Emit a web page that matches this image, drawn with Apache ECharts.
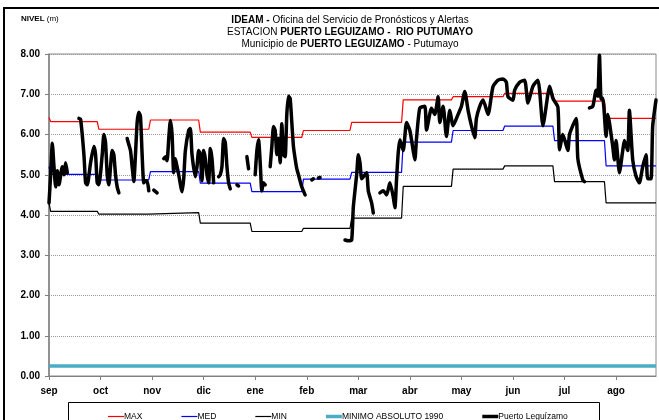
<!DOCTYPE html>
<html>
<head>
<meta charset="utf-8">
<script src="https://cdn.jsdelivr.net/npm/echarts@6/dist/echarts.min.js"></script>
<style>
html, body { margin: 0; padding: 0; background: #fff; }
#chart { width: 659px; height: 420px; }
</style>
</head>
<body>
<div id="chart"></div>
<script>
// eje x: dias desde el 1 de septiembre, etiqueta cada 31 dias
var months = ['sep', 'oct', 'nov', 'dic', 'ene', 'feb', 'mar', 'abr', 'may', 'jun', 'jul', 'ago']
var monthStart = [0, 30, 61, 91, 122, 153, 182, 213, 243, 274, 304, 335, 365]
var yTicks = [0, 1, 2, 3, 4, 5, 6, 7, 8]

// estadisticas mensuales (m)
var nivelMax = [6.32, 6.13, 6.36, 6.06, 5.93, 6.10, 6.30, 6.86, 6.94, 7.02, 6.83, 6.40]
var nivelMed = [5.01, 4.87, 5.08, 4.79, 4.58, 4.89, 5.06, 5.81, 6.10, 6.21, 5.85, 5.22]
var nivelMin = [4.09, 4.02, 4.06, 3.80, 3.59, 3.67, 3.92, 4.71, 5.14, 5.22, 4.83, 4.30]
var primerDia = [6.42, 5.20, 4.30] // max, med, min del 1 de sep
var minimoAbsoluto = 0.25

// Puerto Leguizamo: [dia, nivel], null = sin dato
var niveles = [
  [0, 4.30], [1, 5.00], [2, 5.78], [3, 5.20], [4, 4.70], [5, 5.10], [6, 4.75], [8, 5.20], [9, 5.00], [10, 5.30], [11, 5.05], [12, null],
  [18, 6.40], [19, 6.38], [21, 5.50], [22, 4.80], [23, 4.75], [25, 5.30], [27, 5.70], [28, 5.50], [29, 4.80], [30, 4.75], [32, 5.50], [33, 6.00], [34, 5.80], [35, 5.00], [36, 4.75], [37, 5.20], [38, 5.60], [39, 5.50], [40, 5.00], [41, 4.70], [42, 4.55], [43, null],
  [47, 5.90], [48, 5.75], [49, 5.60], [50, 5.20], [51, 4.83], [52, 5.50], [53, 6.30], [54, 6.55], [55, 6.45], [56, 5.50], [57, 4.80], [58, 4.85], [59, 4.85], [60, 4.60], [61, null], [63, 4.62], [65, 4.55], [66, null],
  [69, 5.40], [70, 5.45], [71, 5.35], [72, 5.90], [73, 6.35], [74, 6.00], [75, 5.05], [76, 5.40], [77, 5.20], [78, 5.00], [80, 4.58], [81, 4.90], [82, 5.60], [84, 6.10], [85, 6.15], [86, 5.50], [88, 4.95], [89, 5.20], [90, 5.60], [91, 5.50], [92, 4.85], [93, 5.60], [94, 5.40], [95, 5.00], [96, 4.80], [97, 5.65], [98, 5.40], [99, 4.80], [100, null],
  [102, 4.95], [103, 5.00], [104, 5.20], [105, 5.90], [106, 5.80], [107, 5.20], [108, 4.80], [109, 4.65], [110, null],
  [113, 4.75], [114, 4.72], [115, null],
  [119, 5.45], [120, 5.15], [121, null],
  [124, 5.00], [125, 5.60], [126, 5.87], [127, 5.30], [128, 4.60], [129, 4.80], [130, 4.75], [131, null],
  [133, 5.20], [134, 5.70], [135, 6.20], [136, 6.10], [137, 5.50], [138, 5.90], [139, 5.30], [140, 6.27], [141, 5.50], [142, 5.45], [143, 6.50], [144, 6.95], [145, 6.90], [146, 6.30], [147, 5.70], [148, 5.40], [149, 5.15], [150, 5.00], [152, 4.70], [154, 4.50], [155, null],
  [158, 4.87], [159, 4.90], [160, null], [162, 4.92], [163, 4.93], [164, null],
  [178, 3.38], [180, 3.36], [182, 3.38], [183, 4.20], [185, 5.00], [186, 5.50], [187, 5.30], [188, 4.90], [189, 4.95], [191, 5.05], [192, 4.60], [194, 4.30], [195, 4.05], [196, null],
  [199, 4.55], [201, 4.60], [203, 4.50], [205, 4.80], [207, 4.45], [208, 4.18], [209, 4.90], [210, 5.55], [211, 5.87], [213, 5.60], [215, 6.30], [217, 6.10], [219, 5.60], [220, 5.37], [221, 5.90], [223, 6.66], [226, 6.70], [227, 6.11], [230, 6.65], [232, 6.50], [234, 6.94], [235, 6.30], [237, 6.70], [239, 5.95], [241, 6.60], [243, 6.22], [246, 6.50], [248, 6.70], [250, 7.07], [252, 6.60], [254, 6.22], [256, 5.92], [257, 6.40], [259, 6.70], [261, 6.86], [264, 6.50], [267, 7.19], [270, 7.35], [273, 7.38], [275, 7.30], [276, 6.94], [279, 6.85], [280, 7.10], [283, 7.30], [286, 7.35], [288, 6.78], [291, 7.20], [294, 7.35], [295, 7.10], [297, 6.22], [300, 7.00], [301, 7.20], [303, 6.90], [306, 6.68], [307, 5.62], [309, 6.00], [312, 5.60], [313, 6.00], [317, 6.40], [318, 5.40], [321, 4.87], [322, 4.83], [323, null],
  [325, 6.66], [327, 6.70], [329, 7.10], [330, 6.95], [331, 7.97], [332, 6.88], [333, 6.90], [335, 5.95], [336, 6.50], [337, 6.30], [339, 5.70], [340, 5.37], [341, 5.85], [343, 5.05], [345, 5.60], [346, 5.85], [348, 5.60], [349, 6.60], [351, 5.37], [353, 4.96], [355, 4.80], [357, 5.20], [359, 5.50], [360, 4.90], [362, 4.90], [363, 6.20], [365, 6.86]
]

var FONT = '"Liberation Sans", Arial, sans-serif'
var thinIcon = 'path://M0,0H16V1.2H0Z'
var thickIcon = 'path://M0,0H16V3.5H0Z'

// escalon mensual: valor constante en cada mes, cambio en un dia
function monthly(values, first) {
  var out = [[0, first]]
  for (var i = 0; i < values.length; i++) {
    out.push([Math.max(monthStart[i], 1), values[i]])
    out.push([monthStart[i + 1] - (i === values.length - 1 ? 0 : 1), values[i]])
  }
  return out
}

var chart = echarts.init(document.getElementById('chart'))

var option = {
  animation: false,
  backgroundColor: '#fff',
  textStyle: { fontFamily: FONT },
  title: [
    {
      text: '{b|IDEAM -} Oficina del Servicio de Pronósticos y Alertas\nESTACION {b|PUERTO LEGUIZAMO -  RIO PUTUMAYO}\nMunicipio de {b|PUERTO LEGUIZAMO} - Putumayo',
      left: 350,
      top: 14,
      textAlign: 'center',
      padding: 0,
      textStyle: {
        fontFamily: FONT, fontSize: 10, fontWeight: 'normal', color: '#000', lineHeight: 12,
        rich: { b: { fontFamily: FONT, fontSize: 10, fontWeight: 'bold', color: '#000', lineHeight: 12 } }
      }
    },
    {
      text: '{b|NIVEL} (m)',
      left: 21,
      top: 15,
      padding: 0,
      textStyle: {
        fontFamily: FONT, fontSize: 8, fontWeight: 'normal', color: '#000',
        rich: { b: { fontFamily: FONT, fontSize: 8, fontWeight: 'bold', color: '#000' } }
      }
    }
  ],
  legend: {
    left: 103,
    top: 407,
    itemWidth: 16,
    itemHeight: 10,
    itemGap: 39,
    symbolKeepAspect: true,
    textStyle: { fontFamily: FONT, fontSize: 8.5, color: '#000', padding: [0, 0, 0, -5] },
    data: [
      { name: 'MAX', icon: thinIcon },
      { name: 'MED', icon: thinIcon },
      { name: 'MIN', icon: thinIcon },
      { name: 'MINIMO ABSOLUTO 1990', icon: thickIcon },
      { name: 'Puerto Leguízamo', icon: thickIcon }
    ]
  },
  graphic: [
    { type: 'rect', shape: { x: 4, y: 8, width: 700, height: 500 }, style: { fill: 'none', stroke: '#000', lineWidth: 2 }, silent: true },
    { type: 'rect', shape: { x: 68.5, y: 402.5, width: 531, height: 40 }, style: { fill: 'none', stroke: '#000', lineWidth: 1 }, silent: true }
  ],
  grid: {
    left: 49, right: 3, top: 54, bottom: 44,
    show: true, borderColor: '#8a8a8a', borderWidth: 1
  },
  xAxis: {
    type: 'value',
    min: 0,
    max: 365,
    interval: 31,
    axisLine: { lineStyle: { color: '#808080', width: 1 } },
    axisTick: { length: 4, lineStyle: { color: '#808080' } },
    splitLine: { show: false },
    axisLabel: {
      margin: 10,
      color: '#000',
      fontFamily: FONT,
      fontSize: 10,
      fontWeight: 'bold',
      showMaxLabel: false,
      formatter: function (v) {
        return v % 31 === 0 && months[v / 31] ? months[v / 31] : ''
      }
    }
  },
  yAxis: {
    type: 'value',
    min: yTicks[0],
    max: yTicks[yTicks.length - 1],
    interval: 1,
    axisLine: { show: true, lineStyle: { color: '#808080', width: 1.5 } },
    axisTick: { show: true, length: 4, lineStyle: { color: '#808080' } },
    splitLine: { lineStyle: { color: '#9a9a9a', type: [1, 1], width: 1 } },
    axisLabel: {
      margin: 9,
      color: '#000',
      fontFamily: FONT,
      fontSize: 10,
      fontWeight: 'bold',
      formatter: function (v) { return v.toFixed(2) }
    }
  },
  series: [
    { name: 'MAX', type: 'line', symbol: 'none', data: monthly(nivelMax, primerDia[0]), lineStyle: { color: '#ff0000', width: 1.2 }, itemStyle: { color: '#ff0000' } },
    { name: 'MED', type: 'line', symbol: 'none', data: monthly(nivelMed, primerDia[1]), lineStyle: { color: '#0000ff', width: 1.2 }, itemStyle: { color: '#0000ff' } },
    { name: 'MIN', type: 'line', symbol: 'none', data: monthly(nivelMin, primerDia[2]), lineStyle: { color: '#000', width: 1.2 }, itemStyle: { color: '#000' } },
    { name: 'MINIMO ABSOLUTO 1990', type: 'line', symbol: 'none', data: [[0, minimoAbsoluto], [365, minimoAbsoluto]], lineStyle: { color: '#4bacc6', width: 3.5 }, itemStyle: { color: '#4bacc6' } },
    { name: 'Puerto Leguízamo', type: 'line', symbol: 'none', smooth: 0.2, connectNulls: false, data: niveles, lineStyle: { color: '#000', width: 3.5, cap: 'round', join: 'round' }, itemStyle: { color: '#000' } }
  ]
}

chart.setOption(option)
</script>
</body>
</html>
